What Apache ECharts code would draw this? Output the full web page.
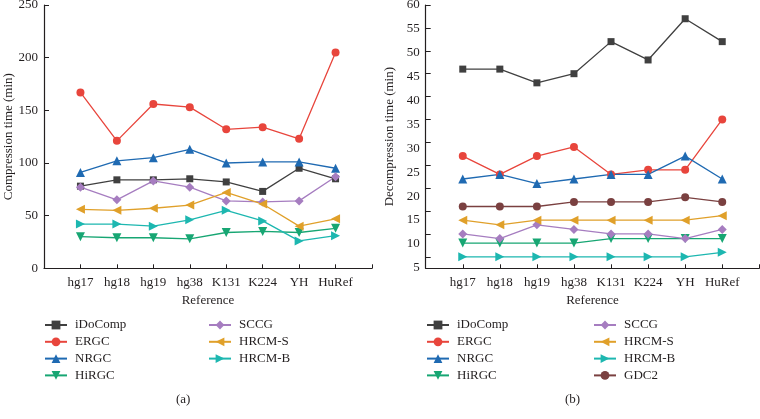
<!DOCTYPE html>
<html>
<head>
<meta charset="utf-8">
<script src="https://cdn.jsdelivr.net/npm/echarts@6/dist/echarts.min.js"></script>
<style>
  html, body { margin: 0; padding: 0; background: #fff; }
  #chart { width: 760px; height: 419px; }
</style>
</head>
<body>
<div id="chart"></div>
<script>
// ---------- data ----------
const categories = ['hg17', 'hg18', 'hg19', 'hg38', 'K131', 'K224', 'YH', 'HuRef'];

// (a) Compression time (min)
const compIDoComp = [78, 84, 84, 85, 82, 73, 95, 85];
const compERGC    = [167, 121, 156, 153, 132, 134, 123, 205];
const compNRGC    = [91, 102, 105, 113, 100, 101, 101, 95];
const compHiRGC   = [30, 29, 29, 28, 34, 35, 34, 38];
const compSCCG    = [77, 65, 83, 77, 64, 63, 64, 87];
const compHRCMS   = [56, 55, 57, 60, 72, 61, 40, 47];
const compHRCMB   = [42, 42, 40, 46, 55, 45, 26, 31];

// (b) Decompression time (min)
const decIDoComp = [46, 46, 43, 45, 52, 48, 57, 52];
const decERGC    = [27, 23, 27, 29, 23, 24, 24, 35];
const decNRGC    = [22, 23, 21, 22, 23, 23, 27, 22];
const decHiRGC   = [8, 8, 8, 8, 9, 9, 9, 9];
const decSCCG    = [10, 9, 12, 11, 10, 10, 9, 11];
const decHRCMS   = [13, 12, 13, 13, 13, 13, 13, 14];
const decHRCMB   = [5, 5, 5, 5, 5, 5, 5, 6];
const decGDC2    = [16, 16, 16, 17, 17, 17, 18, 17];

const compTicks = [0, 50, 100, 150, 200, 250];
const decTicks  = [5, 10, 15, 20, 25, 30, 35, 40, 45, 50, 55, 60];

// ---------- styles ----------
const FONT = 'Liberation Serif';
const TXT = '#231f20';
const styles = {
  'iDoComp': { color: '#404040', symbol: 'rect',     rotate: 0,   size: 7 },
  'ERGC':    { color: '#e8453c', symbol: 'circle',   rotate: 0,   size: 8 },
  'NRGC':    { color: '#1f6ab2', symbol: 'triangle', rotate: 0,   size: 9 },
  'HiRGC':   { color: '#17a673', symbol: 'triangle', rotate: 180, size: 9 },
  'SCCG':    { color: '#a67dc0', symbol: 'diamond',  rotate: 0,   size: 9 },
  'HRCM-S':  { color: '#e0a02a', symbol: 'triangle', rotate: 90,  size: 9 },
  'HRCM-B':  { color: '#1db7b0', symbol: 'triangle', rotate: -90, size: 9 },
  'GDC2':    { color: '#7a4040', symbol: 'circle',   rotate: 0,   size: 8 }
};

function makeSeries(name, values, axisIndex) {
  const s = styles[name];
  return {
    name: name,
    type: 'line',
    xAxisIndex: axisIndex,
    yAxisIndex: axisIndex,
    data: values.map((v, i) => [i + 1, v]),
    symbol: s.symbol,
    symbolSize: s.size,
    symbolRotate: s.rotate,
    showSymbol: true,
    animation: false,
    lineStyle: { color: s.color, width: 1.3 },
    itemStyle: { color: s.color },
    emphasis: { disabled: true }
  };
}

function xAxisCfg(gridIndex) {
  return {
    type: 'value',
    gridIndex: gridIndex,
    min: 0, max: 9, interval: 1,
    name: 'Reference',
    nameLocation: 'middle',
    nameGap: 26,
    nameTextStyle: { fontFamily: FONT, fontSize: 13, color: TXT },
    axisLine: { show: true, onZero: false, lineStyle: { color: TXT, width: 1.2 } },
    axisTick: { show: true, inside: true, length: 4, lineStyle: { color: TXT, width: 1 } },
    axisLabel: {
      fontFamily: FONT, fontSize: 13, color: TXT, margin: 8,
      formatter: v => categories[v - 1] || ''
    },
    splitLine: { show: false }
  };
}

const axisLineY = { show: true, lineStyle: { color: TXT, width: 1.2 } };

// right-axis labels sit progressively lower than their ticks in the reference
const decRich = {};
decTicks.forEach(v => {
  decRich['o' + v] = {
    fontFamily: FONT, fontSize: 13, color: TXT,
    padding: [Math.round((60 - v) * 0.4), 0, 0, 0]
  };
});

const legendBase = {
  orient: 'vertical', top: 318, padding: 0,
  itemWidth: 22, itemHeight: 11, itemGap: 2.8,
  textStyle: { fontFamily: FONT, fontSize: 13, color: TXT, lineHeight: 14, padding: [0, 0, 0, 3] },
  selectedMode: false
};

const option = {
  backgroundColor: '#ffffff',
  animation: false,
  grid: [
    { left: 44, top: 5, width: 328, height: 263.3, outerBoundsMode: 'none', containLabel: false },
    { left: 425.7, top: 5, width: 333.6, height: 263.3, outerBoundsMode: 'none', containLabel: false }
  ],
  xAxis: [xAxisCfg(0), xAxisCfg(1)],
  yAxis: [
    {
      type: 'value', gridIndex: 0,
      min: compTicks[0], max: compTicks[compTicks.length - 1], interval: 50,
      name: 'Compression time (min)',
      nameLocation: 'middle', nameGap: 29,
      nameTextStyle: { fontFamily: FONT, fontSize: 13, color: TXT },
      axisLine: axisLineY,
      axisTick: { show: true, inside: true, length: 5, lineStyle: { color: TXT, width: 1 } },
      axisLabel: { fontFamily: FONT, fontSize: 13, color: TXT, margin: 6 },
      splitLine: { show: false }
    },
    {
      type: 'value', gridIndex: 1,
      min: 2.5, max: 60,
      name: 'Decompression time (min)',
      nameLocation: 'middle', nameGap: 30,
      nameTextStyle: { fontFamily: FONT, fontSize: 13, color: TXT },
      axisLine: axisLineY,
      axisTick: { show: true, inside: true, length: 5, customValues: decTicks, lineStyle: { color: TXT, width: 1 } },
      axisLabel: {
        fontFamily: FONT, fontSize: 13, color: TXT, margin: 6, customValues: decTicks,
        formatter: v => '{o' + v + '|' + v + '}',
        rich: decRich
      },
      splitLine: { show: false }
    }
  ],
  legend: [
    Object.assign({}, legendBase, { data: ['iDoComp', 'ERGC', 'NRGC', 'HiRGC'], left: 44 }),
    Object.assign({}, legendBase, { data: ['SCCG', 'HRCM-S', 'HRCM-B'], left: 208 }),
    Object.assign({}, legendBase, { data: ['iDoComp', 'ERGC', 'NRGC', 'HiRGC'], left: 426 }),
    Object.assign({}, legendBase, { data: ['SCCG', 'HRCM-S', 'HRCM-B', 'GDC2'], left: 593 })
  ],
  graphic: [
    { type: 'text', left: 176, top: 393, style: { text: '(a)', font: '13px "Liberation Serif"', fill: TXT } },
    { type: 'text', left: 565, top: 393, style: { text: '(b)', font: '13px "Liberation Serif"', fill: TXT } }
  ],
  series: [
    makeSeries('iDoComp', compIDoComp, 0),
    makeSeries('ERGC', compERGC, 0),
    makeSeries('NRGC', compNRGC, 0),
    makeSeries('HiRGC', compHiRGC, 0),
    makeSeries('SCCG', compSCCG, 0),
    makeSeries('HRCM-S', compHRCMS, 0),
    makeSeries('HRCM-B', compHRCMB, 0),
    makeSeries('iDoComp', decIDoComp, 1),
    makeSeries('ERGC', decERGC, 1),
    makeSeries('NRGC', decNRGC, 1),
    makeSeries('HiRGC', decHiRGC, 1),
    makeSeries('SCCG', decSCCG, 1),
    makeSeries('HRCM-S', decHRCMS, 1),
    makeSeries('HRCM-B', decHRCMB, 1),
    makeSeries('GDC2', decGDC2, 1)
  ]
};

const chart = echarts.init(document.getElementById('chart'), null, { renderer: 'canvas' });
chart.setOption(option);
</script>
</body>
</html>
